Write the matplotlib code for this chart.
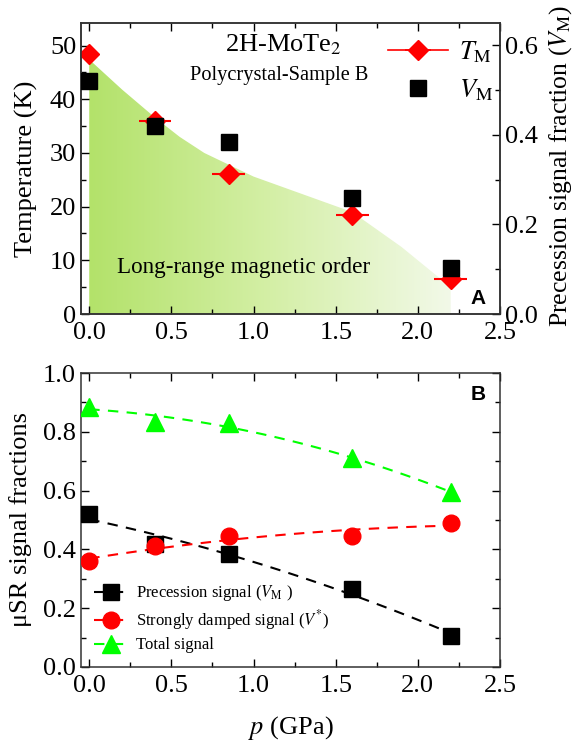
import numpy as np
import matplotlib
matplotlib.use("Agg")
import matplotlib.pyplot as plt
from matplotlib.colors import LinearSegmentedColormap
from matplotlib.patches import Polygon

plt.rcParams['font.family'] = ['Liberation Serif', 'DejaVu Serif']
plt.rcParams['mathtext.fontset'] = 'stix'

# pressure points (GPa)
p = [0.0, 0.4, 0.85, 1.6, 2.2]
# panel A
T_M = [48.5, 36.0, 26.0, 18.5, 6.5]
T_M_xerr = [0.0, 0.1, 0.1, 0.1, 0.1]
V_M = [0.52, 0.42, 0.385, 0.26, 0.103]
# boundary of the shaded long-range order region
fill_p = [0.0, 0.2, 0.4, 0.55, 0.7, 0.85, 1.0, 1.3, 1.6, 1.9, 2.2]
fill_T = [47.4, 41.8, 36.6, 33.0, 30.0, 27.8, 25.6, 22.3, 19.0, 12.5, 5.0]
# panel B
precession = [0.52, 0.42, 0.385, 0.265, 0.105]
damped = [0.36, 0.41, 0.445, 0.445, 0.49]
total = [0.885, 0.835, 0.83, 0.71, 0.595]

fig = plt.figure(figsize=(5.77, 7.42), dpi=100)
ax = fig.add_axes([0.1404, 0.5768, 0.7262, 0.3922])
ax2 = ax.twinx()
bx = fig.add_axes([0.1404, 0.1011, 0.7262, 0.3962])

tick_kw = dict(direction='in', labelsize=19)
for a in (ax, ax2, bx):
    for s in a.spines.values():
        s.set_linewidth(1.1)
        s.set_color('#333333')

# ---- panel A ----
cmap = LinearSegmentedColormap.from_list('g', ['#b3e26a', '#d4efa6', '#f2f9e8'])
grad = np.linspace(0, 1, 256).reshape(1, -1)
im = ax.imshow(grad, cmap=cmap, extent=[0, 2.2, 0, 55], aspect='auto', zorder=0)
poly = Polygon(list(zip(fill_p, fill_T)) + [(2.2, 0), (0, 0)], closed=True,
               facecolor='none', edgecolor='none', transform=ax.transData)
ax.add_patch(poly)
im.set_clip_path(poly)

ax.errorbar(p, T_M, xerr=T_M_xerr, fmt='D', color='red', ms=10,
            elinewidth=1.5, capsize=0, zorder=4)
ax2.plot(p, V_M, 's', color='black', ms=11, zorder=3)

ax.set_xlim(-0.05, 2.5)
ax.set_ylim(0, 54.2)
ax2.set_ylim(0, 0.65)
ax.set_xticks(np.arange(0, 2.51, 0.5))
ax.set_xticks(np.arange(0, 2.51, 0.25), minor=True)
ax.set_yticks(np.arange(0, 51, 10))
ax.set_yticks(np.arange(0, 55, 5), minor=True)
ax2.set_yticks(np.arange(0, 0.61, 0.2))
ax2.set_yticks(np.arange(0, 0.65, 0.1), minor=True)
ax.tick_params(which='both', top=True, right=False, **tick_kw)
ax.tick_params(which='major', length=6, width=1)
ax.tick_params(which='minor', length=3.5, width=1)
ax2.tick_params(which='both', **tick_kw)
ax2.tick_params(which='major', length=6, width=1)
ax2.tick_params(which='minor', length=3.5, width=1)
ax.set_xticklabels(['0.0', '0.5', '1.0', '1.5', '2.0', '2.5'])
ax2.set_yticklabels(['0.0', '0.2', '0.4', '0.6'])
ax.tick_params(axis='x', pad=6)

ax.set_ylabel('Temperature (K)', fontsize=19)
ax.yaxis.set_label_coords(-0.103, 0.5)
ax2.set_ylabel('Precession signal fraction ($V_{\\rm M}$)', fontsize=18.5)
ax2.yaxis.set_label_coords(1.112, 0.51)

ax.text(1.18, 50.2, '2H-MoTe$_2$', fontsize=19, ha='center', va='center')
ax.text(1.155, 44.4, 'Polycrystal-Sample B', fontsize=14.7, ha='center', va='center')
ax.text(0.94, 8.7, 'Long-range magnetic order', fontsize=16.7, ha='center', va='center')
ax.text(0.965, 0.02, 'A', transform=ax.transAxes, fontsize=15, fontweight='bold',
        family='Liberation Sans', ha='right', va='bottom')

hT = ax.errorbar([], [], xerr=[], fmt='D-', color='red', ms=10, lw=1.2)
hV, = ax.plot([], [], 's', color='black', ms=11)
leg = ax.legend([hT, hV], ['$T_{\\rm M}$', '$V_{\\rm M}$'], loc='upper right',
                bbox_to_anchor=(1.04, 1.025), frameon=False, fontsize=19,
                handlelength=2.3, labelspacing=0.45, handletextpad=0.4)

# ---- panel B ----
xs = np.linspace(0, 2.2, 100)
series = [(precession, 's', 'black', 11, 'Precession signal ($V_{\\rm M}$ )'),
          (damped, 'o', 'red', 12, 'Strongly damped signal ($V^{*}$)'),
          (total, '^', '#00ff00', 13, 'Total signal')]
handles = []
for vals, mk, col, ms, lab in series:
    fit = np.polyval(np.polyfit(p, vals, 2), xs)
    bx.plot(xs, fit, '--', color=col, lw=1.5, dashes=(5, 4), zorder=2)
    bx.plot(p, vals, mk, color=col, ms=ms, zorder=3)
    h, = bx.plot([], [], '--', marker=mk, color=col, ms=ms, lw=1.5, dashes=(5, 4))
    handles.append(h)
bx.legend(handles, [s[4] for s in series], loc='lower left',
          bbox_to_anchor=(-0.005, -0.005), frameon=False, fontsize=12,
          handlelength=2.0, labelspacing=0.3, handletextpad=0.5)

bx.set_xlim(-0.05, 2.5)
bx.set_ylim(0, 1.0)
bx.set_xticks(np.arange(0, 2.51, 0.5))
bx.set_xticks(np.arange(0, 2.51, 0.25), minor=True)
bx.set_yticks(np.arange(0, 1.01, 0.2))
bx.set_yticks(np.arange(0, 1.01, 0.1), minor=True)
bx.tick_params(which='both', top=True, right=True, **tick_kw)
bx.tick_params(which='major', length=6, width=1)
bx.tick_params(which='minor', length=3.5, width=1)
bx.set_xticklabels(['0.0', '0.5', '1.0', '1.5', '2.0', '2.5'])
bx.set_yticklabels(['0.0', '0.2', '0.4', '0.6', '0.8', '1.0'])
bx.tick_params(axis='x', pad=6)
bx.set_ylabel('μSR signal fractions', fontsize=19)
bx.yaxis.set_label_coords(-0.117, 0.5)
bx.set_xlabel('$p$ (GPa)', fontsize=19, labelpad=12)
bx.text(0.965, 0.96, 'B', transform=bx.transAxes, fontsize=15, fontweight='bold',
        family='Liberation Sans', ha='right', va='top')

fig.savefig('out.png', dpi=100)
